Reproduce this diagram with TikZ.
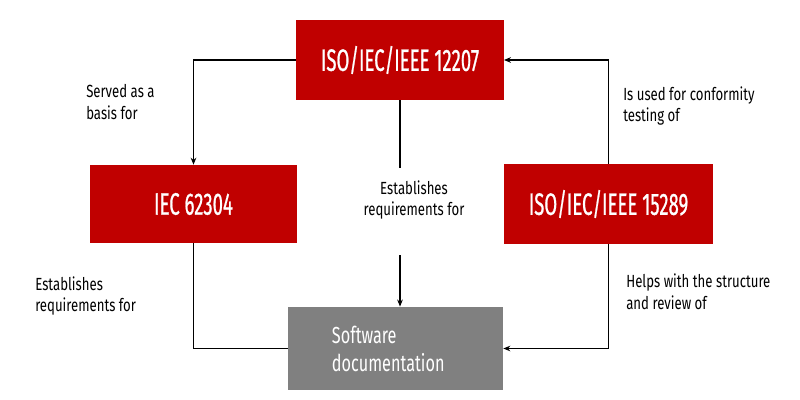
\documentclass[tikz,border=0pt]{standalone}
\usepackage{fontspec}
\setmainfont[FakeStretch=0.75]{Fira Sans}
\newfontfamily\boxfont[FakeStretch=0.6,FakeBold=0.7]{Fira Sans}
\newfontfamily\docfont[FakeStretch=0.7]{Fira Sans}
\usetikzlibrary{arrows.meta}
\definecolor{isored}{HTML}{C00000}
\definecolor{docgray}{HTML}{808080}

\begin{document}
\begin{tikzpicture}[x=0.025cm,y=-0.025cm,
    stdbox/.style={fill=isored,text=white,minimum width=5.18cm,minimum height=2cm,
        inner sep=0pt,font=\boxfont\fontsize{22}{24}\selectfont},
    lbl/.style={align=left,inner sep=0pt,font=\fontsize{12.5}{15.5}\selectfont},
    link/.style={line width=1.4pt,draw=black},
    >={Stealth[length=5pt,width=4pt]}]
                \useasboundingbox (0,0) rectangle (800,400);
                \node[stdbox] (A) at (400,60) {ISO/IEC/IEEE 12207};
                \node[stdbox,minimum height=1.95cm] (B) at (193.5,204) {IEC 62304};
                \node[stdbox,minimum width=5.2cm,minimum height=1.98cm] (C) at (608.5,204) {ISO/IEC/IEEE 15289};
                \node[fill=docgray,text=white,minimum width=5.375cm,minimum height=2.08cm,
                    text width=3.175cm,inner xsep=1.1cm,align=left,
                    font=\docfont\fontsize{16.5}{20}\selectfont] (D) at (395.5,348.5) {Software\\documentation};
                \node[lbl,anchor=west] (E) at (86,102) {Served as a\\basis for};
                \node[lbl,anchor=west] (F) at (623,106) {Is used for conformity\\testing of};
                \node[lbl,align=center] (G) at (414,200) {Establishes\\requirements for};
                \node[lbl,anchor=west] (H) at (35,296) {Establishes\\requirements for};
                \node[lbl,anchor=west] (K) at (626,292) {Helps with the structure\\and review of};
                \coordinate (m1) at (400,168);
                \coordinate (m2) at (400,255);
                \draw [link,->] (A.west) -| (B.north);
                \draw [link,->] (C.north) |- (A.east);
                \draw [link] (A.south -| m1) -- (m1);
                \draw [link,->] (m2) -- (m2 |- D.north);
                \draw [link] (B.south) |- (D.west);
                \draw [link,->] (C.south) |- (D.east);
            \end{tikzpicture}
\end{document}
